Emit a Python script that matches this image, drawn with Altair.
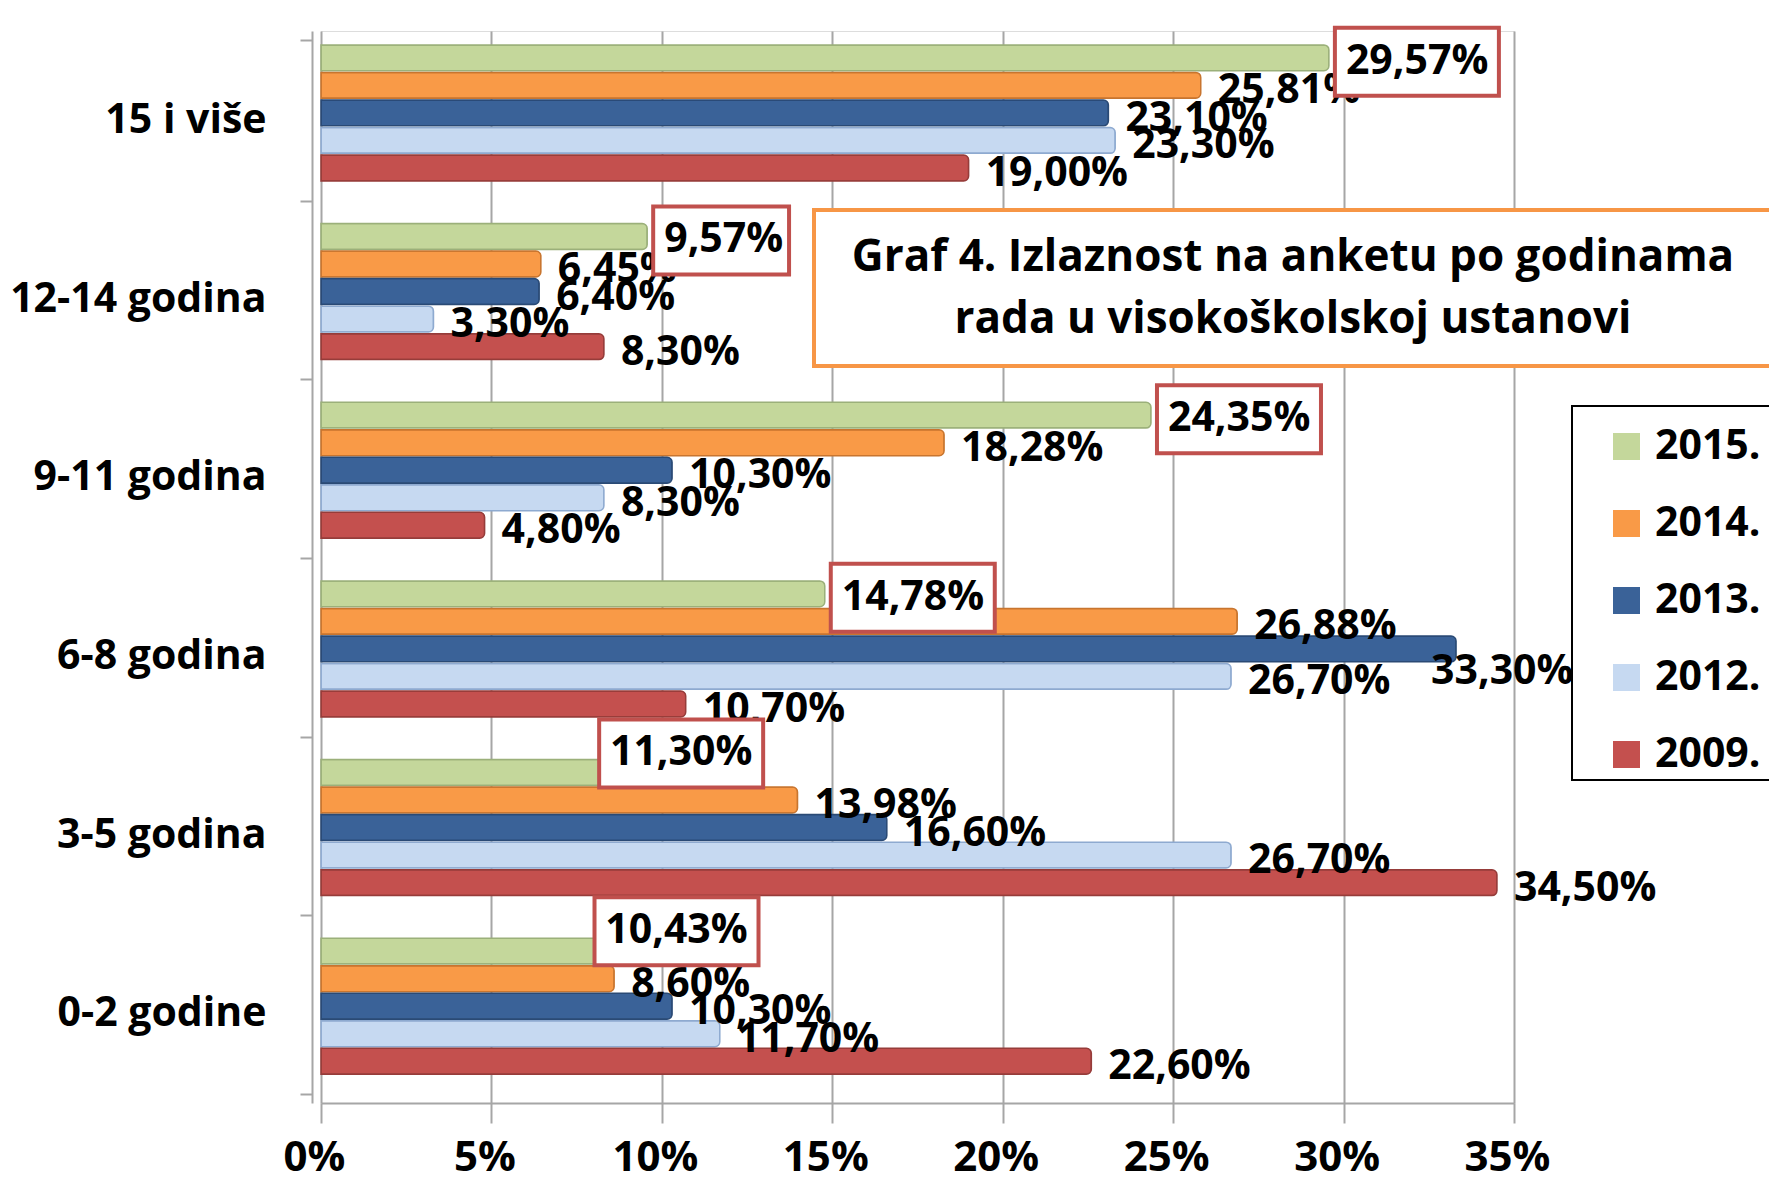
import altair as alt
import pandas as pd

categories = ["15 i više", "12-14 godina", "9-11 godina", "6-8 godina", "3-5 godina", "0-2 godine"]
series = ["2015.", "2014.", "2013.", "2012.", "2009."]
v2015 = [29.57, 9.57, 24.35, 14.78, 11.30, 10.43]
v2014 = [25.81, 6.45, 18.28, 26.88, 13.98, 8.60]
v2013 = [23.10, 6.40, 10.30, 33.30, 16.60, 10.30]
v2012 = [23.30, 3.30, 8.30, 26.70, 26.70, 11.70]
v2009 = [19.00, 8.30, 4.80, 10.70, 34.50, 22.60]
x_ticks = [0, 5, 10, 15, 20, 25, 30, 35]
title_lines = ["Graf 4. Izlaznost na anketu po godinama", "rada u visokoškolskoj ustanovi"]

fills = ["#c4d79b", "#f99a47", "#3a6298", "#c6d9f1", "#c4504e"]
strokes = ["#9bb07a", "#c8752f", "#2a4a75", "#8eaad0", "#963c3a"]

values = {"2015.": v2015, "2014.": v2014, "2013.": v2013, "2012.": v2012, "2009.": v2009}
rows = []
for i, c in enumerate(categories):
    for s in series:
        v = values[s][i]
        rows.append({"category": c, "series": s, "value": v,
                     "label": f"{v:.2f}".replace(".", ",") + "%"})
df = pd.DataFrame(rows)

FONT = "Open Sans"
FS = 41

y = alt.Y("category:N", sort=categories,
          scale=alt.Scale(paddingInner=0.1, paddingOuter=0.05),
          axis=alt.Axis(title=None, tickBand="extent", offset=9, domainColor="#a6a6a6",
                        domainWidth=2, tickColor="#a6a6a6", tickWidth=2, tickSize=12,
                        labelPadding=34, labelFont=FONT, labelFontSize=FS,
                        labelFontWeight="bold", labelColor="black", labelLimit=500))
yoff = alt.YOffset("series:N", sort=series,
                   scale=alt.Scale(domain=series, paddingInner=0.06, paddingOuter=0.45, align=0.2))
x = alt.X("value:Q", scale=alt.Scale(domain=[0, 35], nice=False),
          axis=alt.Axis(title=None, values=x_ticks, labelExpr="datum.value + '%'",
                        grid=True, gridColor="#a6a6a6", gridWidth=2,
                        domainColor="#a6a6a6", domainWidth=2, tickColor="#a6a6a6",
                        tickWidth=2, tickSize=20, labelPadding=14, labelOffset=-7,
                        labelFlush=False, labelOverlap=False,
                        labelFont=FONT, labelFontSize=42, labelFontWeight="bold",
                        labelColor="black"))

base = alt.Chart(df)

bars = base.mark_bar(cornerRadiusEnd=5, strokeWidth=1.5).encode(
    x=x, y=y, yOffset=yoff,
    color=alt.Color("series:N", scale=alt.Scale(domain=series, range=fills),
                    legend=alt.Legend(title=None, orient="none", legendX=1251, legendY=375,
                                      symbolType="square", symbolSize=729, symbolStrokeWidth=0,
                                      labelFont=FONT, labelFontSize=FS, labelFontWeight="bold",
                                      labelColor="black", padding=20, symbolOffset=14,
                                      labelOffset=8, rowPadding=35)),
    stroke=alt.Stroke("series:N", scale=alt.Scale(domain=series, range=strokes), legend=None),
)

text_style = dict(font=FONT, fontSize=FS, fontWeight="bold", color="black", baseline="middle")

labels = base.transform_filter(
    "datum.series != '2015.' && !(datum.category == '6-8 godina' && datum.series == '2013.')"
).mark_text(align="left", dx=17, dy=6, **text_style).encode(
    x="value:Q", y=alt.Y("category:N", sort=categories), yOffset=yoff, text="label:N")

label_exc = base.transform_filter(
    "datum.category == '6-8 godina' && datum.series == '2013.'"
).mark_text(align="left", dx=-25, dy=23, **text_style).encode(
    x="value:Q", y=alt.Y("category:N", sort=categories), yOffset=yoff, text="label:N")

# highlight boxes for 2015 values
paths = [
    "M0.073,-0.366L2.073,-0.366L2.073,0.463L0.073,0.463Z",
    "M0.073,-0.366L1.73,-0.366L1.73,0.463L0.073,0.463Z",
    "M0.073,-0.366L2.073,-0.366L2.073,0.463L0.073,0.463Z",
    "M0.073,-0.366L2.073,-0.366L2.073,0.463L0.073,0.463Z",
    "M-1.305,-0.646L0.695,-0.646L0.695,0.183L-1.305,0.183Z",
    "M-1,-0.659L1,-0.659L1,0.171L-1,0.171Z",
]
hl = base.transform_filter("datum.series == '2015.'")
boxes = hl.mark_point(filled=True, fill="white", stroke="#c0504d", strokeWidth=4,
                      opacity=1, size=26896).encode(
    x="value:Q", y=alt.Y("category:N", sort=categories), yOffset=yoff,
    shape=alt.Shape("category:N", scale=alt.Scale(domain=categories, range=paths), legend=None))

hl_a = hl.transform_filter(
    "indexof(['15 i više','12-14 godina','9-11 godina','6-8 godina'], datum.category) >= 0"
).mark_text(align="left", dx=17, dy=4, **text_style).encode(
    x="value:Q", y=alt.Y("category:N", sort=categories), yOffset=yoff, text="label:N")
hl_b = hl.transform_filter("datum.category == '0-2 godine'").mark_text(
    align="center", dx=0, dy=-20, **text_style).encode(
    x="value:Q", y=alt.Y("category:N", sort=categories), yOffset=yoff, text="label:N")
hl_c = hl.transform_filter("datum.category == '3-5 godina'").mark_text(
    align="center", dx=-25, dy=-19, **text_style).encode(
    x="value:Q", y=alt.Y("category:N", sort=categories), yOffset=yoff, text="label:N")

one = alt.Chart(pd.DataFrame({"a": [0]}))
title_box = one.mark_rect(fill="white", stroke="#f79646", strokeWidth=4).encode(
    x=alt.value(493), x2=alt.value(1460), y=alt.value(179), y2=alt.value(335))
title_text = one.mark_text(font=FONT, fontSize=44, fontWeight="bold", color="black",
                           align="center", baseline="middle", lineHeight=62).encode(
    x=alt.value(972), y=alt.value(227), text=alt.value(title_lines))
legend_box = one.mark_rect(fill="white", stroke="black", strokeWidth=2).encode(
    x=alt.value(1251), x2=alt.value(1470), y=alt.value(375), y2=alt.value(749))

chart = alt.layer(
    bars, labels, label_exc, boxes, hl_a, hl_b, hl_c, title_box, title_text, legend_box
).properties(
    width=1193, height=1072,
    autosize=alt.AutoSizeParams(type="none"),
    padding={"left": 313, "top": 23, "right": 255, "bottom": 84},
).configure_view(stroke=None).configure(background="white")

chart.save("out.html", embed_options={"renderer": "svg", "actions": False})
